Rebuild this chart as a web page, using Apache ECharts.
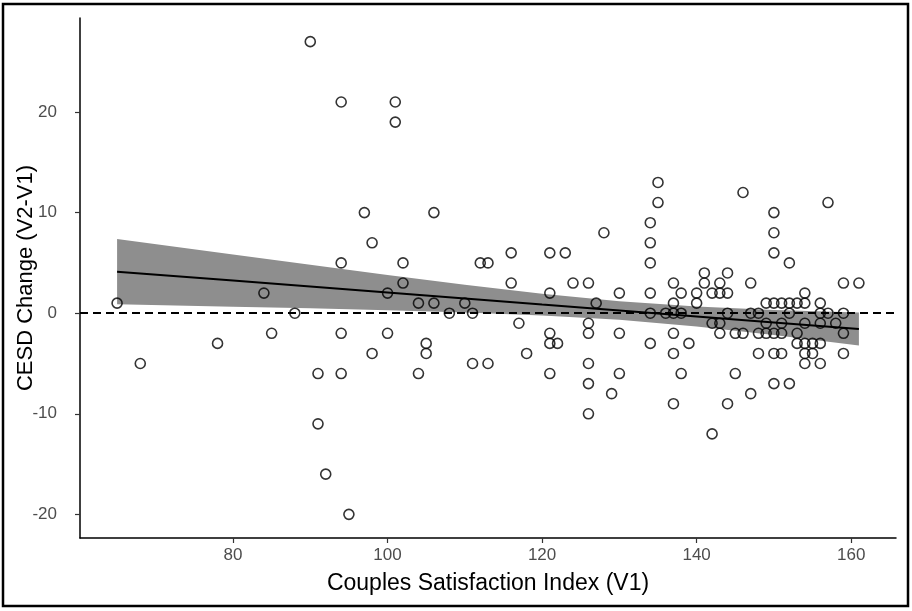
<!DOCTYPE html>
<html>
<head>
<meta charset="utf-8">
<script src="https://cdn.jsdelivr.net/npm/echarts@6/dist/echarts.min.js"></script>
<style>
html,body{margin:0;padding:0;background:#fff;}
#chart{width:912px;height:611px;}
</style>
</head>
<body>
<div id="chart"></div>
<script>
// Couples Satisfaction Index (V1) for each participant
var csiV1 = [65,68,78,84,85,88,90,91,91,92,94,94,94,94,95,97,98,98,100,100,101,101,102,102,104,104,105,105,106,106,108,110,111,111,112,113,113,116,116,117,118,121,121,121,121,121,122,123,124,126,126,126,126,126,126,127,128,129,130,130,130,134,134,134,134,134,134,135,135,136,137,137,137,137,137,137,138,138,138,139,140,140,141,141,142,142,142,143,143,143,143,144,144,144,144,145,145,146,146,147,147,147,148,148,148,149,149,149,150,150,150,150,150,150,150,151,151,151,151,152,152,152,152,153,153,153,154,154,154,154,154,154,155,155,156,156,156,156,156,157,157,158,159,159,159,159,161];
// CESD change (V2-V1) for each participant
var cesdChange = [1,-5,-3,2,-2,0,27,-6,-11,-16,21,5,-2,-6,-20,10,7,-4,2,-2,21,19,5,3,1,-6,-3,-4,10,1,0,1,0,-5,5,5,-5,6,3,-1,-4,6,2,-2,-3,-6,-3,6,3,3,-1,-2,-5,-7,-10,1,8,-8,2,-2,-6,9,7,5,2,0,-3,13,11,0,3,1,0,-2,-4,-9,2,0,-6,-3,2,1,4,3,2,-1,-12,3,2,-1,-2,4,2,0,-9,-2,-6,12,-2,3,0,-8,0,-2,-4,1,-1,-2,10,8,6,1,-2,-4,-7,1,-1,-2,-4,5,1,0,-7,1,-2,-3,2,1,-1,-3,-4,-5,-3,-4,1,0,-1,-3,-5,11,0,-1,3,0,-2,-4,3];

// Fitted line and 95% band
var fitX     = [65, 80, 90, 100, 110, 120, 130, 140, 150, 161];
var fitY     = [4.13, 3.24, 2.65, 2.05, 1.46, 0.86, 0.27, -0.33, -0.92, -1.57];
var bandHigh = [7.38, 5.83, 4.81, 3.80, 2.84, 1.94, 1.20, 0.67, 0.33, 0.07];
var bandLow  = [0.88, 0.65, 0.49, 0.30, 0.08, -0.22, -0.66, -1.33, -2.17, -3.21];

var xTicks = [80, 100, 120, 140, 160];
var yTicks = [-20, -10, 0, 10, 20];

var points = csiV1.map(function(x, i){ return [x, cesdChange[i]]; });
var fitLine = fitX.map(function(x, i){ return [x, fitY[i]]; });
var bandData = fitX.map(function(x, i){ return [x, bandLow[i], bandHigh[i]]; });

var FONT = '"Liberation Sans", Arial, sans-serif';
var chart = echarts.init(document.getElementById('chart'), null, {renderer:'canvas'});
chart.setOption({
  animation: false,
  backgroundColor: '#ffffff',
  graphic: [{
    type: 'rect', z: 100, silent: true,
    shape: {x: 3, y: 4, width: 905, height: 602},
    style: {fill: 'none', stroke: '#000', lineWidth: 2.5}
  }],
  grid: {left: 80, right: 16, top: 18, bottom: 73, containLabel: false, outerBoundsMode: 'none'},
  xAxis: {
    type: 'value', min: 60.2, max: 165.8,
    name: 'Couples Satisfaction Index (V1)',
    nameLocation: 'middle', nameGap: 34, nameMoveOverlap: false,
    nameTextStyle: {fontFamily: FONT, fontSize: 23, color: '#000'},
    axisLine: {show: true, onZero: false, lineStyle: {color: '#000', width: 1.5}},
    axisTick: {show: true, length: 5, customValues: xTicks, lineStyle: {color: '#333', width: 1.2}},
    axisLabel: {customValues: xTicks, margin: 9, fontFamily: FONT, fontSize: 17, color: '#4d4d4d'},
    splitLine: {show: false}
  },
  yAxis: {
    type: 'value', min: -22.35, max: 29.35,
    name: 'CESD Change (V2-V1)',
    nameLocation: 'middle', nameGap: 43, nameRotate: 90, nameMoveOverlap: false,
    nameTextStyle: {fontFamily: FONT, fontSize: 22, color: '#000'},
    axisLine: {show: true, onZero: false, lineStyle: {color: '#000', width: 1.5}},
    axisTick: {show: true, length: 5, customValues: yTicks, lineStyle: {color: '#333', width: 1.2}},
    axisLabel: {customValues: yTicks, margin: 23, fontFamily: FONT, fontSize: 17, color: '#4d4d4d'},
    splitLine: {show: false}
  },
  series: [
    {
      type: 'custom', name: 'band', data: bandData, z: 1, silent: true,
      encode: {x: 0, y: [1, 2]},
      renderItem: function(params, api){
        if (params.dataIndex !== 0) return null;
        var pts = [];
        for (var i = 0; i < bandData.length; i++) pts.push(api.coord([bandData[i][0], bandData[i][2]]));
        for (var j = bandData.length - 1; j >= 0; j--) pts.push(api.coord([bandData[j][0], bandData[j][1]]));
        return {type: 'polygon', shape: {points: pts}, style: {fill: '#8e8e8e', stroke: null}};
      }
    },
    {
      type: 'scatter', name: 'points', data: points,
      symbol: 'circle', symbolSize: 10, z: 3,
      itemStyle: {color: 'rgba(0,0,0,0)', borderColor: '#000', borderWidth: 1.6}
    },
    {
      type: 'line', name: 'fit', data: fitLine, symbol: 'none', z: 4,
      lineStyle: {color: '#000', width: 2}
    },
    {
      type: 'line', name: 'zero', data: [], z: 5,
      markLine: {
        silent: true, symbol: 'none', label: {show: false},
        lineStyle: {color: '#000', width: 2, type: [8, 5]},
        data: [{yAxis: 0}]
      }
    }
  ]
});
</script>
</body>
</html>
